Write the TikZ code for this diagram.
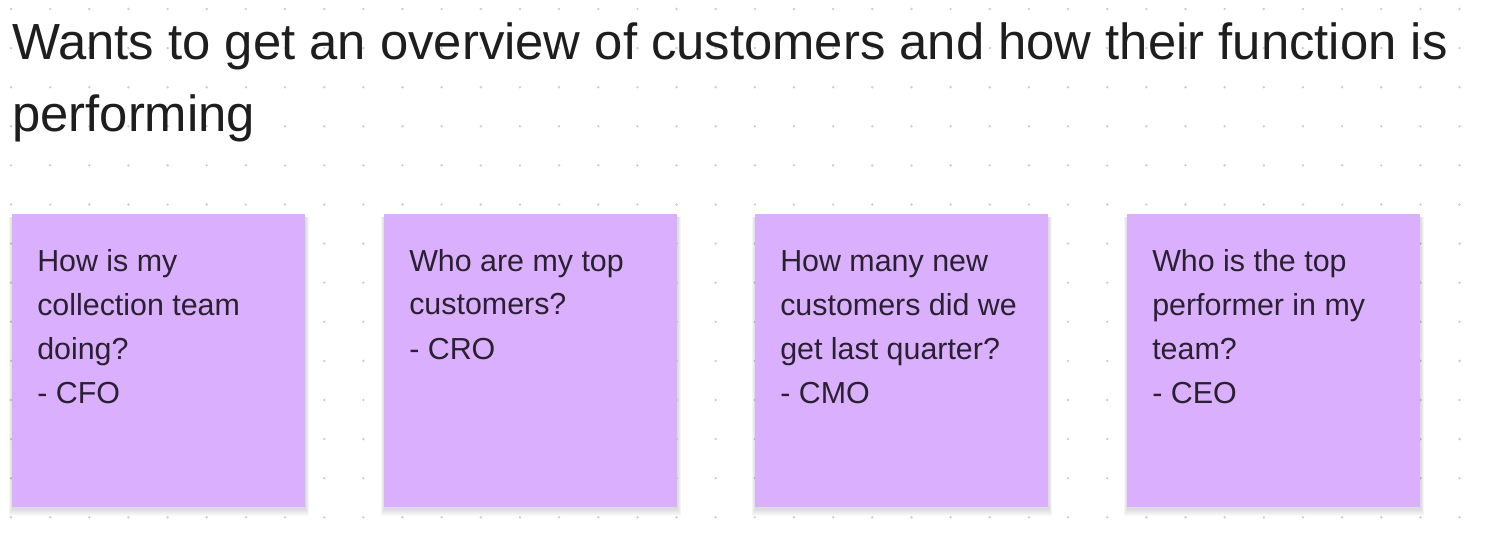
\documentclass[tikz,border=0pt]{standalone}
\usepackage{fontspec}
\setmainfont{Liberation Sans}
\usetikzlibrary{calc}
\pgfdeclarelayer{bg}
\pgfdeclarelayer{shade}
\pgfsetlayers{bg,shade,main}
\definecolor{sticky}{HTML}{DAAFFE}
\definecolor{titlecol}{HTML}{1E1E1E}
\definecolor{stickytext}{HTML}{2A2130}
\definecolor{dotcol}{HTML}{CDCDCD}
\tikzset{
  stickynote/.style={rectangle, draw=none, fill=sticky, minimum width=219.75pt, minimum height=219.75pt, inner sep=0pt, anchor=north west},
  shadowrect/.style={fill=black, fill opacity=0.02, draw=none},
  stickytxt/.style={anchor=base west, align=left, inner sep=0pt, text=stickytext, font=\fontsize{22.8}{33}\selectfont},
  titletxt/.style={anchor=base west, align=left, inner sep=0pt, text=titlecol, font=\fontsize{38.1}{54}\selectfont}
}
\begin{document}
\begin{tikzpicture}[x=0.75pt,y=-0.75pt]
\useasboundingbox (0,0) rectangle (1488,534);
\begin{pgfonlayer}{bg}
\fill[white] (0,0) rectangle (1488,534);
\foreach \i in {0,...,37}{
  \foreach \j in {0,...,13}{
    \fill[dotcol] ({11+39.15*\i},{9+39.1*\j}) circle[radius=1pt];
  }
}
\end{pgfonlayer}
% base anchor = baseline of last line
\node[titletxt] (title) at (12,132) {Wants to get an overview of customers and how their function is\\performing};
\node[stickynote] (s1) at (12,214) {};
\node[stickynote] (s2) at (384,214) {};
\node[stickynote] (s3) at (755,214) {};
\node[stickynote] (s4) at (1127,214) {};
\begin{pgfonlayer}{shade}
\foreach \s in {s1,s2,s3,s4}{
  \foreach \k in {1,...,7}{
    \fill[shadowrect] ($(\s.north west)+({-0.5*\k},{2+0.2*\k})$) rectangle ($(\s.south east)+({0.5*\k},{1+\k})$);
  }
}
\end{pgfonlayer}
\node[stickytxt] (t1) at ($(s1.north west)+(25,189)$) {How is my\\collection team\\doing?\\- CFO};
\node[stickytxt] (t2) at ($(s2.north west)+(25,145)$) {Who are my top\\customers?\\- CRO};
\node[stickytxt] (t3) at ($(s3.north west)+(25,189)$) {How many new\\customers did we\\get last quarter?\\- CMO};
\node[stickytxt] (t4) at ($(s4.north west)+(25,189)$) {Who is the top\\performer in my\\team?\\- CEO};
\end{tikzpicture}
\end{document}
